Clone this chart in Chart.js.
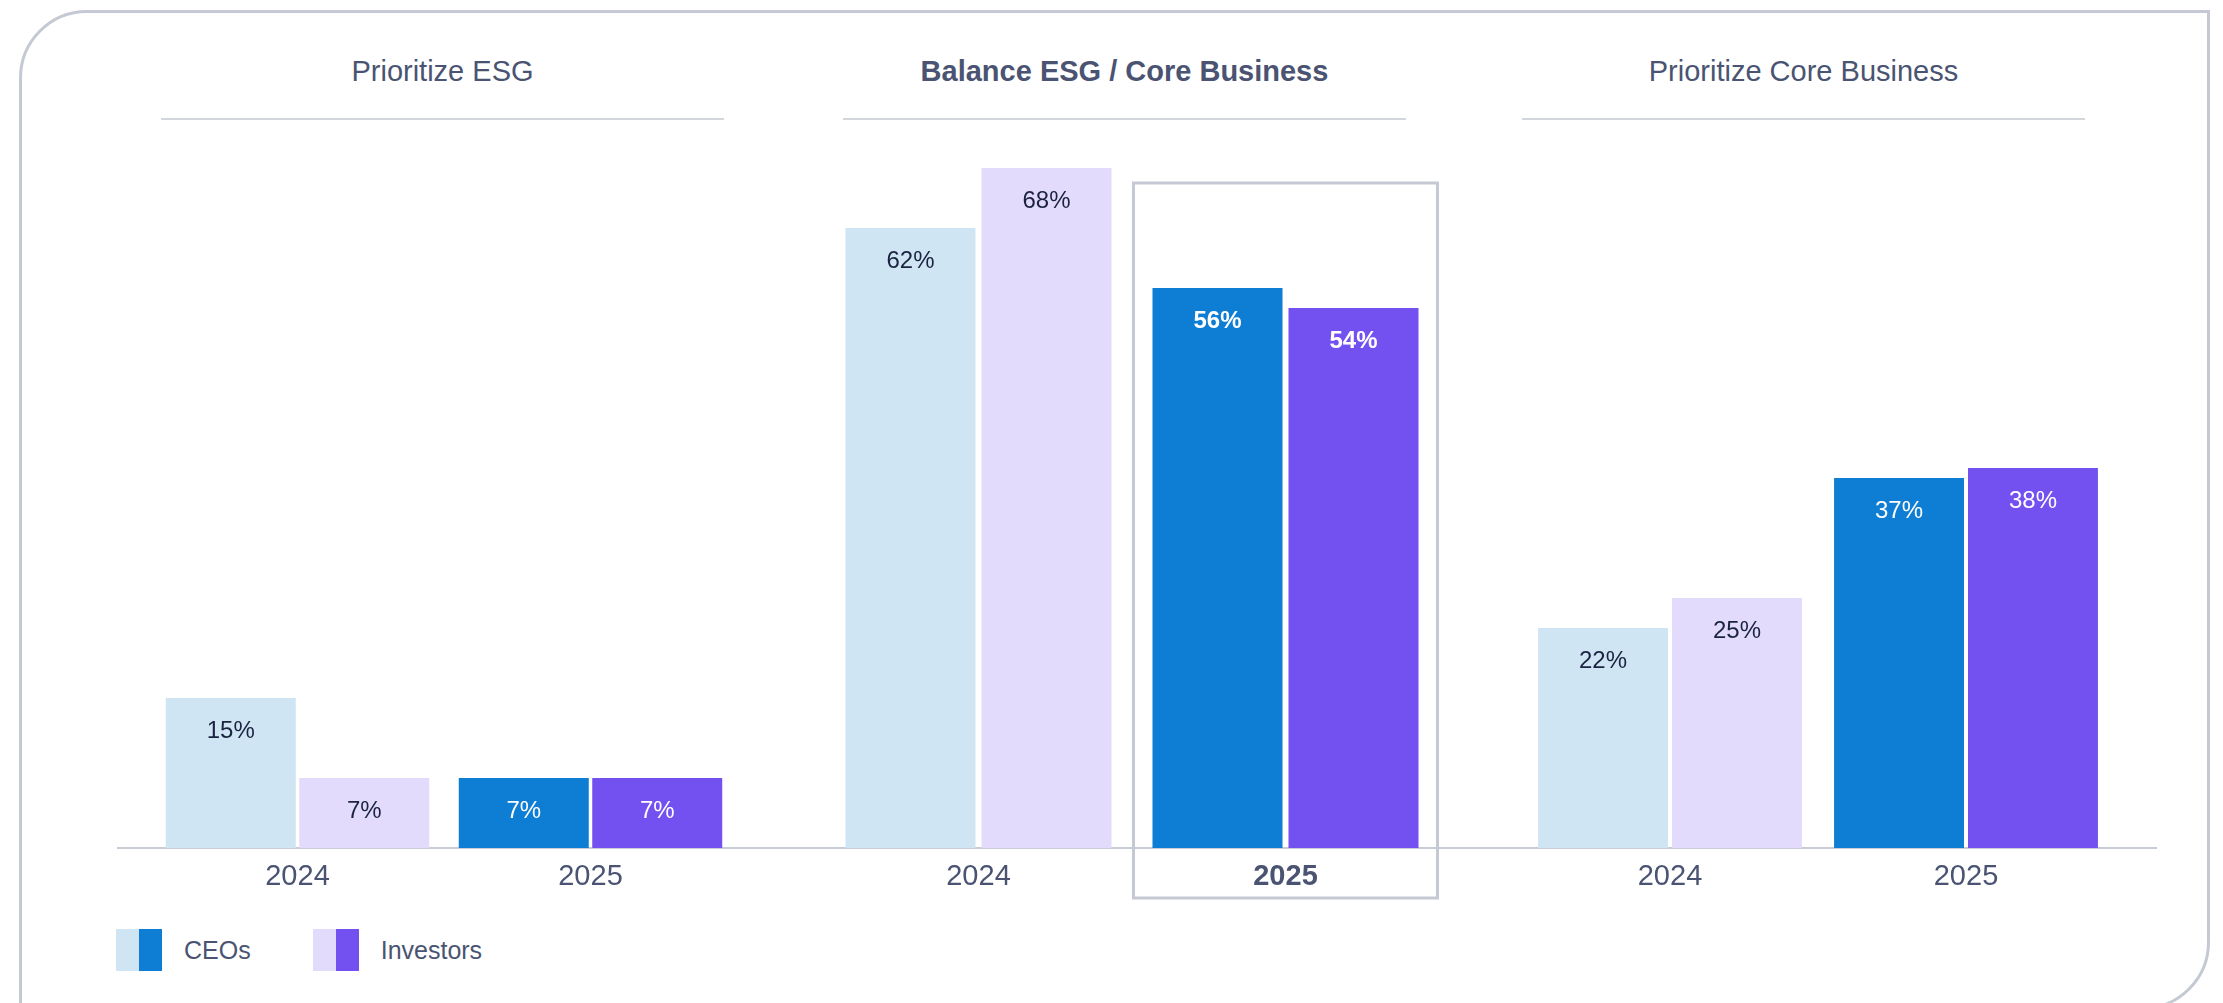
<!DOCTYPE html>
<html>
<head>
<meta charset="utf-8">
<script src="https://cdn.jsdelivr.net/npm/chart.js@4.4.1/dist/chart.umd.min.js"></script>
<style>
  body { margin: 0; width: 2223px; height: 1003px; overflow: hidden; background: #fff; font-family: 'Liberation Sans', Arial, sans-serif; }
  .frame { position: absolute; left: 19px; top: 10px; width: 2191px; height: 1000px; box-sizing: border-box; border: 3px solid #c4c9d3; border-radius: 68px 0 68px 0; }
  .title { position: absolute; top: 52px; width: 563px; text-align: center; font-size: 29px; line-height: 38px; color: #4a5472; }
  .title.bold { font-weight: bold; }
  .rule { position: absolute; top: 118px; width: 563px; height: 2px; background: #d3d6dd; }
  .axis { position: absolute; left: 117px; top: 847px; width: 2040px; height: 2px; background: #c7cbd3; }
  canvas { position: absolute; top: 148px; }
  .legend { position: absolute; left: 116px; top: 929px; display: flex; align-items: center; font-size: 25px; color: #4a5472; }
  .legend .item { display: flex; align-items: center; margin-right: 62px; }
  .legend .swatch { display: flex; width: 46px; height: 42px; margin-right: 22px; }
  .legend .swatch span { flex: 1; }
</style>
</head>
<body>
<div class="frame"></div>
<div class="axis"></div>
<div id="panels"></div>
<div class="legend" id="legend"></div>
<script>
// dados do gráfico
const groups = ['Prioritize ESG', 'Balance ESG / Core Business', 'Prioritize Core Business'];
const years = ['2024', '2025'];
const ceos = [[15, 7], [62, 56], [22, 37]];
const investors = [[7, 7], [68, 54], [25, 38]];
const highlightGroup = 1;
const highlightYear = '2025';

// cores: ano claro (2024) / escuro (2025)
const seriesNames = ['CEOs', 'Investors'];
const seriesColors = [['#cfe5f4', '#0e7dd4'], ['#e2dbfb', '#7351f1']];

// posições de cada painel
const panelLeft = [151, 825, 1522];
const panelWidth = [586, 614, 592];
const ruleLeft = [161, 843, 1522];
const catPct = [0.911, 0.886, 0.905];
const barPct = [0.974, 0.956, 0.97];

Chart.defaults.font.family = "'Liberation Sans', Arial, sans-serif";

// rótulos de valor dentro das barras
const valueLabels = {
    id: 'valueLabels',
    afterDatasetsDraw(chart) {
        const ctx = chart.ctx;
        const g = chart.options.groupIndex;
        ctx.save();
        ctx.textAlign = 'center';
        ctx.textBaseline = 'middle';
        chart.data.datasets.forEach((ds, di) => {
            chart.getDatasetMeta(di).data.forEach((bar, i) => {
                const bold = g === highlightGroup && years[i] === highlightYear;
                ctx.font = (bold ? 'bold ' : '') + "24px 'Liberation Sans', Arial, sans-serif";
                ctx.fillStyle = i === 1 ? '#ffffff' : '#1b2340';
                ctx.fillText(ds.data[i] + '%', bar.x, bar.y + 33);
            });
        });
        ctx.restore();
    }
};

// caixa de destaque em volta do ano selecionado
const highlightBox = {
    id: 'highlightBox',
    afterDatasetsDraw(chart) {
        if (chart.options.groupIndex !== highlightGroup) return;
        const x = chart.scales.x;
        const area = chart.chartArea;
        const half = (x.getPixelForTick(1) - x.getPixelForTick(0)) / 2;
        const cx = x.getPixelForTick(years.indexOf(highlightYear));
        const ctx = chart.ctx;
        ctx.save();
        ctx.strokeStyle = '#c4c9d3';
        ctx.lineWidth = 3;
        ctx.strokeRect(cx - half + 1.5, area.top + 35, 2 * half - 3, area.bottom - area.top - 35 + 50);
        ctx.restore();
    }
};

const panels = document.getElementById('panels');

groups.forEach((name, g) => {
    const title = document.createElement('div');
    title.className = 'title' + (g === highlightGroup ? ' bold' : '');
    title.style.left = ruleLeft[g] + 'px';
    title.textContent = name;
    panels.appendChild(title);

    const rule = document.createElement('div');
    rule.className = 'rule';
    rule.style.left = ruleLeft[g] + 'px';
    panels.appendChild(rule);

    const canvas = document.createElement('canvas');
    canvas.width = panelWidth[g];
    canvas.height = 762;
    canvas.style.left = panelLeft[g] + 'px';
    panels.appendChild(canvas);

    new Chart(canvas.getContext('2d'), {
        type: 'bar',
        data: {
            labels: years,
            datasets: [
                { label: seriesNames[0], data: ceos[g], backgroundColor: seriesColors[0] },
                { label: seriesNames[1], data: investors[g], backgroundColor: seriesColors[1] }
            ]
        },
        options: {
            groupIndex: g,
            responsive: false,
            animation: false,
            categoryPercentage: catPct[g],
            barPercentage: barPct[g],
            layout: { padding: { bottom: 12 } },
            plugins: {
                legend: { display: false },
                tooltip: { enabled: false }
            },
            scales: {
                x: {
                    grid: { display: false },
                    border: { display: false },
                    ticks: {
                        padding: 4,
                        color: '#4a5472',
                        font: ctx => ({
                            size: 29,
                            lineHeight: '34px',
                            weight: (g === highlightGroup && years[ctx.index] === highlightYear) ? 'bold' : 'normal'
                        })
                    }
                },
                y: { display: false, min: 0, max: 70 }
            }
        },
        plugins: [valueLabels, highlightBox]
    });
});

// legenda
const legend = document.getElementById('legend');
seriesNames.forEach((name, i) => {
    const item = document.createElement('div');
    item.className = 'item';
    item.innerHTML = '<div class="swatch"><span style="background:' + seriesColors[i][0] + '"></span><span style="background:' + seriesColors[i][1] + '"></span></div>' + name;
    legend.appendChild(item);
});
</script>
</body>
</html>
